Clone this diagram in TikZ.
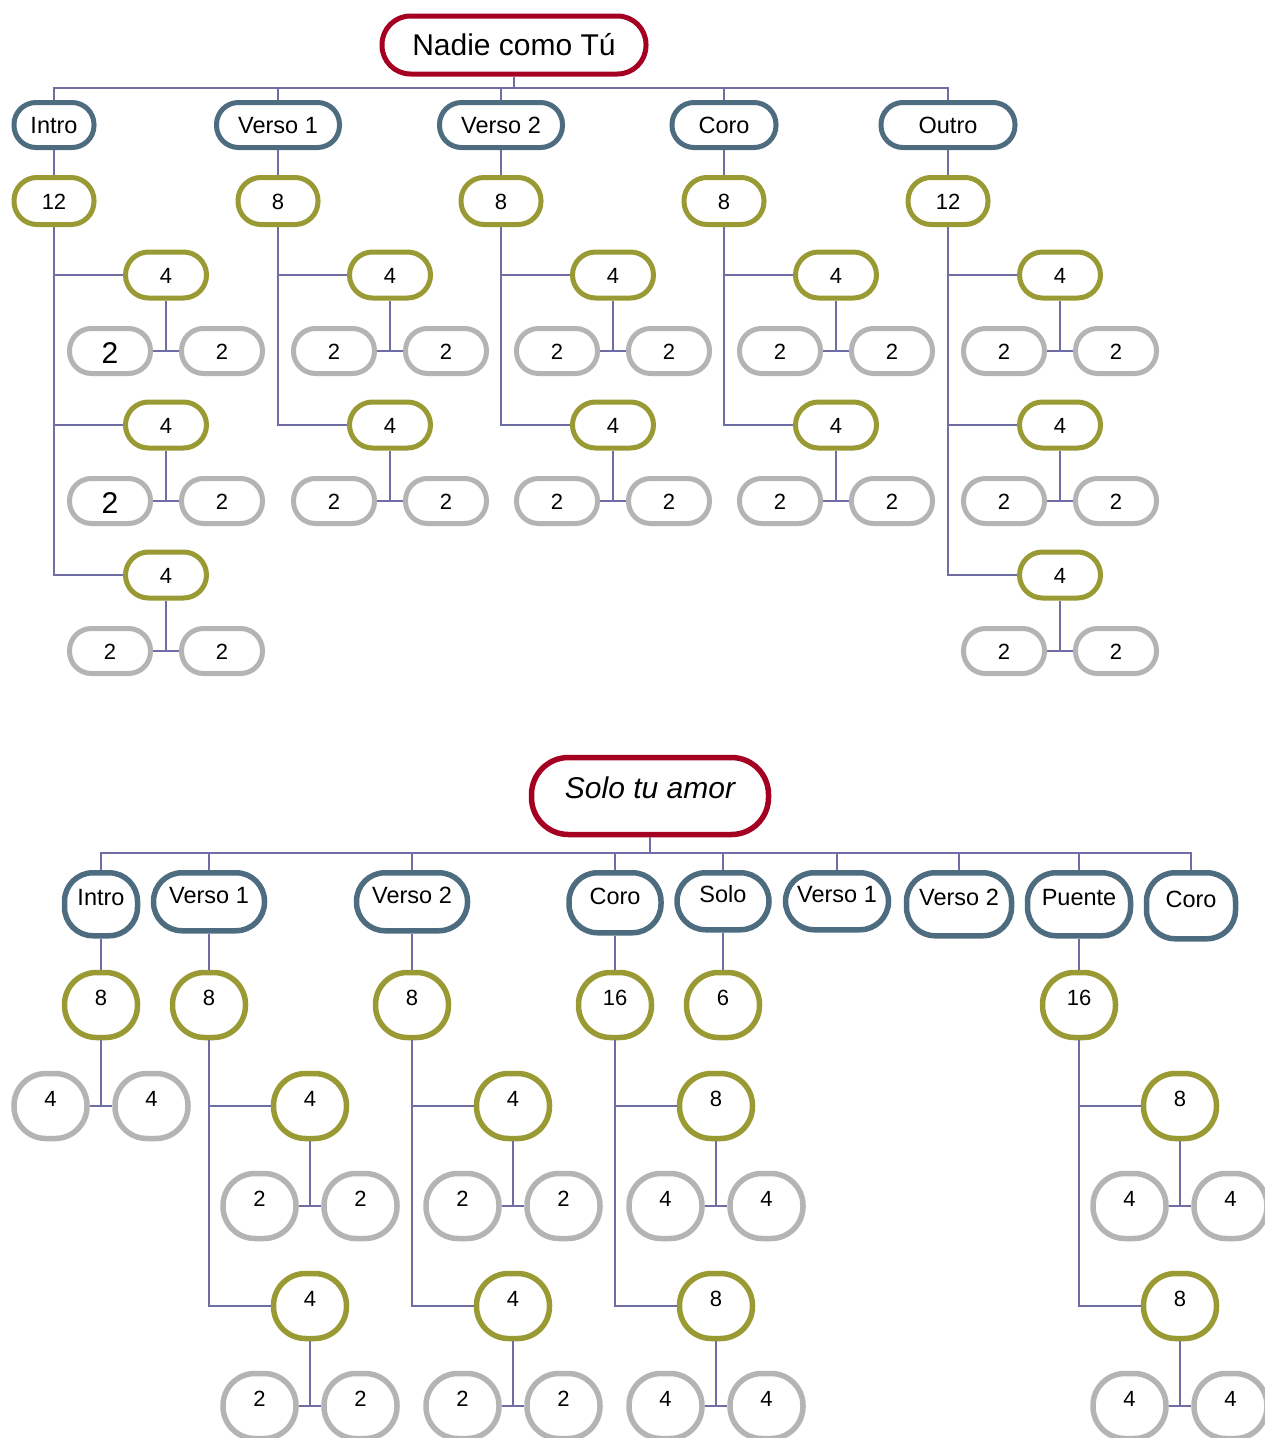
\documentclass[tikz,border=0pt]{standalone}
\usepackage{fontspec}
\setmainfont{Liberation Sans}
\definecolor{cred}{RGB}{165,0,33}
\definecolor{cblue}{RGB}{78,108,128}
\definecolor{colive}{RGB}{154,154,52}
\definecolor{cgray}{RGB}{180,180,180}
\definecolor{lnc}{RGB}{110,110,165}
\tikzset{
  conn/.style={draw=lnc, line width=1.8pt},
  nd/.style={draw, fill=white, line width=5pt, inner sep=0pt},
  fbig/.style={font=\fontsize{30}{36}\selectfont},
  fsec/.style={font=\fontsize{23.5}{28}\selectfont},
  fnum/.style={font=\fontsize{22}{26}\selectfont},
  ttitle/.style={nd, draw=cred, fbig, minimum width=264pt, minimum height=58pt, rounded corners=28.5pt, text height=21.5pt, text depth=0pt},
  tsec/.style={nd, draw=cblue, fsec, minimum height=45pt, rounded corners=22pt, text height=17pt, text depth=0pt},
  tlev/.style={nd, draw=colive, fnum, minimum width=80pt, minimum height=47pt, rounded corners=23pt, text height=16pt, text depth=0pt},
  tfour/.style={tlev, minimum width=81pt, minimum height=46pt},
  ttwo/.style={nd, draw=cgray, fnum, minimum width=81pt, minimum height=45pt, rounded corners=22pt, text height=16pt, text depth=0pt},
  bigtwo/.style={fbig, text height=25pt},
  btitle/.style={nd, draw=cred, line width=5.5pt, fbig, minimum width=237pt, minimum height=77pt, rounded corners=37pt, text height=5.6pt, text depth=0pt},
  bsec/.style={nd, draw=cblue, line width=5.5pt, fsec, rounded corners=28.5pt, text height=2.8pt, text depth=0pt},
  blev/.style={nd, draw=colive, line width=5.5pt, fnum, minimum width=73pt, minimum height=65pt, rounded corners=32pt, text height=0pt, text depth=0pt},
  bleaf/.style={blev, draw=cgray},
}
\begin{document}
\begin{tikzpicture}[x=1pt, y=-1pt]
\useasboundingbox (0,0) rectangle (1265,1438);
\fill[white] (0,0) rectangle (1265,1438);
\clip (0,0) rectangle (1265,1438);

% ---------------- Nadie como Tu ----------------
\node[ttitle] (tt) at (514,45) {Nadie como Tú};
\coordinate (tbus) at (514,88);
\draw[conn] (tt.south) -- (tbus);
\foreach \n/\x/\w/\t/\k in {I/54/85/Intro/12, V1/278/128/Verso 1/8, V2/501/128/Verso 2/8, C/724/109/Coro/8, O/948/139/Outro/12}{
  \node[tsec, minimum width=\w-5] (t\n) at (\x,125) {\t};
  \draw[conn] (tbus) -| (t\n.north);
  \node[tlev] (t\n-k) at (\x,201) {\k};
  \draw[conn] (t\n.south) -- (t\n-k.north);
}
\foreach \n/\x/\m/\bg in {I/54/3/1, V1/278/2/0, V2/501/2/0, C/724/2/0, O/948/3/0}{
  \foreach \j in {1,...,\m}{
    \pgfmathsetmacro\yy{275+150*(\j-1)}
    \ifnum\bg=1 \ifnum\j<3 \def\afont{bigtwo}\else\def\afont{}\fi\else\def\afont{}\fi
    \node[tfour] (t\n-f\j) at (\x+112,\yy) {4};
    \draw[conn] (t\n-k.south) |- (t\n-f\j.west);
    \node[ttwo,\afont] (t\n-a\j) at (\x+56,\yy+76) {2};
    \node[ttwo] (t\n-b\j) at (\x+168,\yy+76) {2};
    \draw[conn] (t\n-f\j.south) -- (t\n-f\j.south |- t\n-a\j.east);
    \draw[conn] (t\n-a\j.east) -- (t\n-b\j.west);
  }
}

% ---------------- Solo tu amor ----------------
\node[btitle] (bt) at (650,796) {\itshape Solo tu amor};
\coordinate (bbus) at (650,853);
\draw[conn] (bt.south) -- (bbus);
\foreach \n/\x/\w/\h/\t in {I/101/78/68/Intro, V1/209/116/63/Verso 1, V2/412/116/63/Verso 2, C/615/97/65/Coro, S/723/97/62/Solo, Vb/837/108/62/Verso 1, Vc/959/110/68/Verso 2, P/1079/108/68/Puente, Cb/1191/94/71/Coro}{
  \node[bsec, minimum width=\w-5, minimum height=\h-5, anchor=north] (b\n) at (\x,870) {\t};
  \draw[conn] (bbus) -| (b\n.north);
}
\foreach \n/\x/\k in {I/101/8, V1/209/8, V2/412/8, C/615/16, S/723/6, P/1079/16}{
  \node[blev] (b\n-k) at (\x,1005) {\k};
  \draw[conn] (b\n.south) -- (b\n-k.north);
}
\node[bleaf] (bI-a) at (50.5,1106) {4};
\node[bleaf] (bI-b) at (151.5,1106) {4};
\draw[conn] (bI-k.south) -- (bI-k.south |- bI-a.east);
\draw[conn] (bI-a.east) -- (bI-b.west);
\foreach \n/\x/\f/\g in {V1/209/4/2, V2/412/4/2, C/615/8/4, P/1079/8/4}{
  \foreach \j/\yy in {1/1106, 2/1306}{
    \node[blev] (b\n-f\j) at (\x+101,\yy) {\f};
    \draw[conn] (b\n-k.south) |- (b\n-f\j.west);
    \node[bleaf] (b\n-a\j) at (\x+50.5,\yy+100) {\g};
    \node[bleaf] (b\n-b\j) at (\x+151.5,\yy+100) {\g};
    \draw[conn] (b\n-f\j.south) -- (b\n-f\j.south |- b\n-a\j.east);
    \draw[conn] (b\n-a\j.east) -- (b\n-b\j.west);
  }
}
\end{tikzpicture}
\end{document}
